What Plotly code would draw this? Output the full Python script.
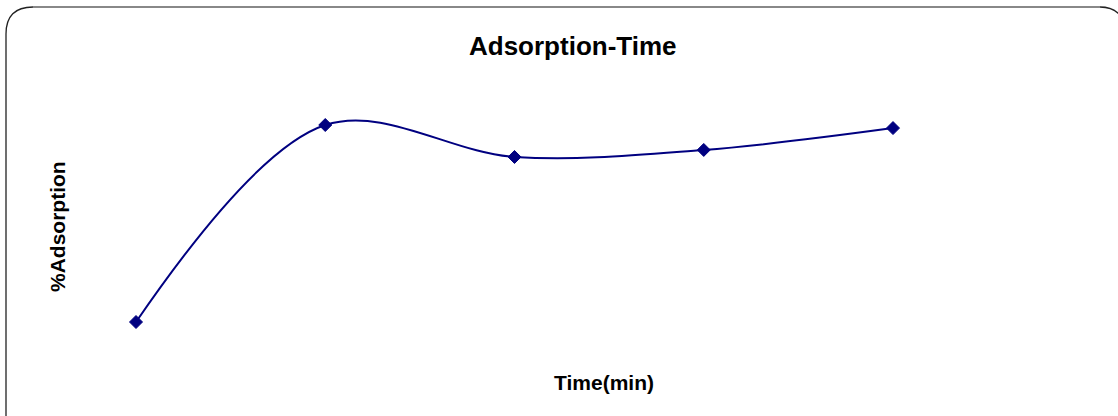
import plotly.graph_objects as go

# Data (axes have no tick labels)
time_min = [10, 20, 30, 40, 50]
adsorption = [42.0, 87.0, 79.7, 81.3, 86.3]

W, H = 1118, 416

fig = go.Figure()
fig.add_trace(go.Scatter(
    x=time_min, y=adsorption,
    mode="lines+markers",
    line=dict(color="#000080", width=2, shape="spline", smoothing=1.0),
    marker=dict(symbol="diamond", size=10, color="#000080",
                line=dict(color="#000080", width=1)),
    showlegend=False,
    hoverinfo="x+y",
))

def px(x):
    return x / W

def py(y):
    return 1 - y / H

# rounded border (clipped at right/bottom)
left = (f"M {px(6)} {py(420)} L {px(6)} {py(34)} "
        f"Q {px(6)} {py(7)} {px(33)} {py(7)}")
top = f"M {px(33)} {py(7)} L {px(1100)} {py(7)}"
right = f"M {px(1100)} {py(7)} Q {px(1112)} {py(7)} {px(1119)} {py(14)}"

shapes = [
    dict(type="path", xref="paper", yref="paper", path=left,
         line=dict(color="#222222", width=1.3)),
    dict(type="path", xref="paper", yref="paper", path=top,
         line=dict(color="#888888", width=2)),
    dict(type="path", xref="paper", yref="paper", path=right,
         line=dict(color="#222222", width=1.3)),
]

font = "Liberation Sans, Arial, sans-serif"
annotations = [
    dict(text="<b>Adsorption-Time</b>", x=px(573.5), y=py(46), xref="paper", yref="paper",
         showarrow=False, font=dict(family=font, size=26, color="#000000"),
         xanchor="center", yanchor="middle"),
    dict(text="<b>Time(min)</b>", x=px(604), y=py(382), xref="paper", yref="paper",
         showarrow=False, font=dict(family=font, size=21, color="#000000"),
         xanchor="center", yanchor="middle"),
    dict(text="<b>%Adsorption</b>", x=px(58), y=py(227), xref="paper", yref="paper",
         showarrow=False, textangle=-90, font=dict(family=font, size=21, color="#000000"),
         xanchor="center", yanchor="middle"),
]

# axis ranges chosen so the points land where they sit in the reference
x_per_unit = (893 - 136) / (time_min[-1] - time_min[0])
xmin = time_min[0] - 136 / x_per_unit
xmax = xmin + W / x_per_unit
y_per_unit = (322 - 125) / (adsorption[1] - adsorption[0])
ymax = adsorption[1] + 125 / y_per_unit
ymin = ymax - H / y_per_unit

fig.update_layout(
    width=W, height=H,
    margin=dict(l=0, r=0, t=0, b=0),
    paper_bgcolor="white", plot_bgcolor="white",
    xaxis=dict(range=[xmin, xmax], visible=False),
    yaxis=dict(range=[ymin, ymax], visible=False),
    shapes=shapes,
    annotations=annotations,
)

fig.write_html("out.html",
               config={"displayModeBar": False},
               post_script="document.body.style.margin='0';document.body.style.overflow='hidden';")
